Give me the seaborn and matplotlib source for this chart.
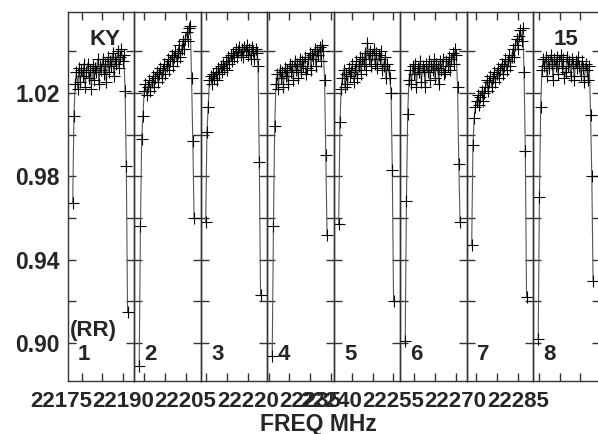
import numpy as np
import pandas as pd
import seaborn as sns
import matplotlib
matplotlib.use('Agg')
from matplotlib import pyplot as plt

# bandpass amplitude per channel, one list per IF (KY, RR)
if1 = [0.967, 1.009,
       1.024, 1.030, 1.022, 1.032, 1.025, 1.031, 1.028, 1.034, 1.023, 1.030,
       1.034, 1.027, 1.031, 1.022, 1.033, 1.026, 1.032, 1.030, 1.036, 1.024,
       1.033, 1.031, 1.036, 1.029, 1.034, 1.025, 1.037, 1.030, 1.035, 1.033,
       1.039, 1.028, 1.036, 1.034, 1.040, 1.032, 1.037, 1.041, 1.035, 1.038,
       1.021, 0.985, 0.915]
if2 = [0.889, 0.956, 0.998, 1.009,
       1.021, 1.024, 1.019, 1.023, 1.026, 1.021, 1.025, 1.028, 1.023, 1.027,
       1.030, 1.025, 1.029, 1.032, 1.027, 1.031, 1.034, 1.029, 1.033, 1.036,
       1.031, 1.035, 1.038, 1.033, 1.037, 1.040, 1.035, 1.039, 1.043, 1.037,
       1.041, 1.045, 1.041, 1.046, 1.049, 1.045, 1.051,
       1.052, 1.027, 0.997, 0.960]
if3 = [0.958, 1.001, 1.013,
       1.026, 1.028, 1.024, 1.029, 1.027, 1.030, 1.026, 1.032, 1.029, 1.033,
       1.030, 1.034, 1.032, 1.035, 1.031, 1.037, 1.034, 1.038, 1.035, 1.039,
       1.037, 1.041, 1.037, 1.040, 1.042, 1.038, 1.041, 1.037, 1.042, 1.040,
       1.043, 1.038, 1.041, 1.036, 1.042, 1.040, 1.036, 1.041, 1.039, 1.033,
       0.987, 0.923]
if4 = [0.894, 0.956, 1.004,
       1.024, 1.029, 1.022, 1.031, 1.027, 1.030, 1.023, 1.032, 1.028, 1.031,
       1.024, 1.034, 1.030, 1.033, 1.026, 1.035, 1.031, 1.034, 1.027, 1.036,
       1.030, 1.035, 1.033, 1.037, 1.029, 1.032, 1.036, 1.039, 1.031, 1.038,
       1.036, 1.041, 1.033, 1.040, 1.038, 1.042, 1.035, 1.043, 1.040,
       1.026, 0.990, 0.952]
if5 = [0.957, 1.006,
       1.022, 1.027, 1.031, 1.023, 1.029, 1.024, 1.032, 1.028, 1.030, 1.034,
       1.025, 1.031, 1.035, 1.027, 1.033, 1.037, 1.029, 1.036, 1.034, 1.039,
       1.031, 1.044, 1.036, 1.040, 1.033, 1.038, 1.041, 1.034, 1.039, 1.032,
       1.038, 1.036, 1.040, 1.031, 1.033, 1.037, 1.027, 1.034, 1.031, 1.027,
       1.020, 0.983, 0.920]
if6 = [0.901, 0.968, 1.010,
       1.026, 1.031, 1.024, 1.033, 1.029, 1.034, 1.023, 1.032, 1.030, 1.035,
       1.025, 1.033, 1.031, 1.023, 1.034, 1.030, 1.035, 1.026, 1.033, 1.031,
       1.036, 1.027, 1.034, 1.032, 1.024, 1.035, 1.031, 1.036, 1.029, 1.030,
       1.035, 1.033, 1.037, 1.031, 1.036, 1.039, 1.034, 1.041, 1.038,
       1.023, 0.986, 0.958]
if7 = [0.947, 0.995, 1.008,
       1.013, 1.016, 1.019, 1.014, 1.018, 1.021, 1.016, 1.020, 1.023, 1.026,
       1.021, 1.025, 1.028, 1.023, 1.027, 1.030, 1.025, 1.029, 1.032, 1.027,
       1.031, 1.034, 1.029, 1.033, 1.036, 1.031, 1.035, 1.038, 1.033, 1.037,
       1.041, 1.037, 1.043, 1.046, 1.041, 1.047, 1.050, 1.045, 1.051,
       1.030, 0.992, 0.922]
if8 = [0.902, 0.970, 1.013,
       1.031, 1.036, 1.033, 1.037, 1.028, 1.035, 1.032, 1.038, 1.034, 1.026,
       1.036, 1.033, 1.037, 1.029, 1.035, 1.038, 1.032, 1.036, 1.027, 1.030,
       1.037, 1.033, 1.035, 1.028, 1.036, 1.034, 1.026, 1.035, 1.032, 1.037,
       1.033, 1.028, 1.035, 1.032, 1.025, 1.034, 1.031, 1.026, 1.033,
       1.0095, 0.980, 0.930]
amps = [if1, if2, if3, if4, if5, if6, if7, if8]

if_start = [22176.6, 22192.6, 22208.6, 22224.6, 22240.6, 22256.6, 22272.6, 22288.6]
if_width = 16.0
chan_offset = 1.25
chan_width = 0.3
if_labels = ['1', '2', '3', '4', '5', '6', '7', '8']
freq_labels = [22175, 22190, 22205, 22220, 22235, 22240, 22255, 22270, 22285]
y_ticks = [0.90, 0.92, 0.94, 0.96, 0.98, 1.00, 1.02, 1.04]
y_labels = ['0.90', '', '0.94', '', '0.98', '', '1.02', '']

sns.set_style('ticks')
plt.rcParams['font.family'] = ['Liberation Sans', 'DejaVu Sans']
plt.rcParams['font.weight'] = 'bold'

W, H = 598, 434
fig = plt.figure(figsize=(W / 100, H / 100), dpi=100)

x0_px, top_px, bot_px = 67.5, 12, 381
pw_px = 66.5
px_per_mhz = pw_px / if_width
fs = 16
frame = '#333333'

for k in range(8):
    ax = fig.add_axes([(x0_px + k * pw_px) / W, (H - bot_px) / H,
                       pw_px / W, (bot_px - top_px) / H])
    chans = np.arange(len(amps[k]))
    df = pd.DataFrame({'freq': if_start[k] + chan_offset + chan_width * chans,
                       'amp': amps[k]})
    sns.lineplot(data=df, x='freq', y='amp', ax=ax, estimator=None, sort=False,
                 color='#555555', lw=0.8, marker='+', markersize=9,
                 markeredgecolor='black', markeredgewidth=0.8)
    ax.set_xticks(np.arange(22175, 22305, 5))
    ax.set_yticks(y_ticks)
    ax.set_xlim(if_start[k], if_start[k] + if_width)
    ax.set_ylim(0.8819, 1.0587)
    if k == 0:
        ax.set_yticklabels(y_labels, fontsize=16.5, fontweight='bold')
    ax.tick_params(axis='both', which='both', direction='in', length=6, width=1,
                   color=frame, top=True, right=True, left=True, bottom=True,
                   labelbottom=False, labelleft=(k == 0), pad=5.4)
    for s in ax.spines.values():
        s.set_color(frame)
        s.set_linewidth(1)
    ax.set_xlabel('')
    ax.set_ylabel('')
    ax.patch.set_alpha(0)
    ax.text(10.5 / pw_px, 21 / (bot_px - top_px), if_labels[k], transform=ax.transAxes,
            ha='left', va='baseline', fontsize=fs, fontweight='bold')
    if k == 0:
        ax.text(2.5 / pw_px, 45 / (bot_px - top_px), '(RR)', transform=ax.transAxes,
                ha='left', va='baseline', fontsize=fs, fontweight='bold')
        ax.text(37.5 / pw_px, 336 / (bot_px - top_px), 'KY', transform=ax.transAxes,
                ha='center', va='baseline', fontsize=fs, fontweight='bold')
    if k == 7:
        ax.text(33 / pw_px, 336 / (bot_px - top_px), '15', transform=ax.transAxes,
                ha='center', va='baseline', fontsize=fs, fontweight='bold')

# frequency labels on a frameless axis spanning the figure width
axl = fig.add_axes([0, (H - bot_px) / H, 1, 0.0001])
f_left = if_start[0] - x0_px / px_per_mhz
axl.set_xticks(freq_labels)
axl.set_xticklabels([str(f) for f in freq_labels], fontsize=fs, fontweight='bold')
axl.set_xlim(f_left, f_left + W / px_per_mhz)
axl.tick_params(axis='x', length=0, pad=7)
axl.set_yticks([])
for s in axl.spines.values():
    s.set_visible(False)
axl.patch.set_alpha(0)

fig.text(318 / W, (H - 424) / H, 'FREQ MHz', ha='center', va='center',
         fontsize=16.5, fontweight='bold')

fig.savefig('out.png', dpi=100)
